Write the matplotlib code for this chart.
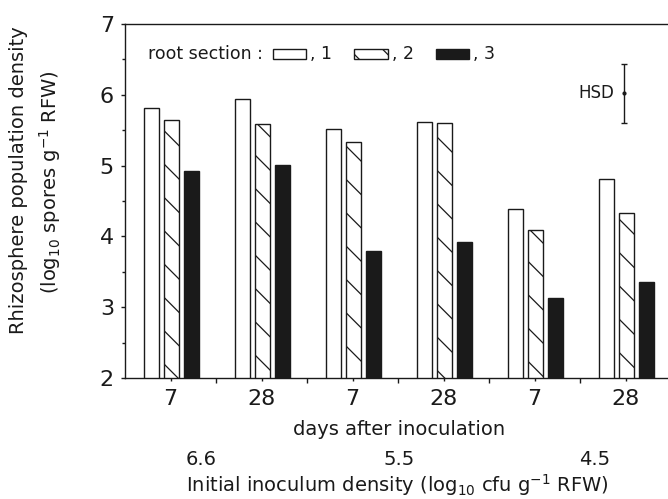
import numpy as np
import matplotlib
matplotlib.use("Agg")
import matplotlib.pyplot as plt  # noqa: E402
from matplotlib.patches import Rectangle  # noqa: E402
from matplotlib.transforms import blended_transform_factory  # noqa: E402
from matplotlib.offsetbox import (AnchoredOffsetbox, HPacker, TextArea,  # noqa: E402
                                  DrawingArea)

plt.rcParams["font.family"] = "DejaVu Sans"
plt.rcParams["mathtext.default"] = "regular"
plt.rcParams["hatch.linewidth"] = 0.9

# --------------------------- data ---------------------------
days = ["7", "28", "7", "28", "7", "28"]
inoculum = ["6.6", "5.5", "4.5"]
section1 = [5.81, 5.94, 5.51, 5.61, 4.39, 4.81]
section2 = [5.65, 5.59, 5.34, 5.60, 4.09, 4.33]
section3 = [4.93, 5.01, 3.80, 3.92, 3.13, 3.35]
hsd_center = 6.02
hsd_half = 0.415

INK = "#1a1a1a"
W, H = 668, 499

fig = plt.figure(figsize=(W / 100, H / 100), dpi=100)
ax = fig.add_axes([125 / W, 1 - 378 / H, 546 / W, 354 / H])

x = np.arange(len(days))
width = 0.16
offsets = [-0.21, 0.01, 0.23]
styles = [dict(facecolor="white"),
          dict(facecolor="white", hatch="\\"),
          dict(facecolor=INK)]
for vals, off, st in zip([section1, section2, section3], offsets, styles):
    ax.bar(x + off, vals, width=width, edgecolor=INK, linewidth=1.0, **st)

# HSD bar
ax.errorbar(4.98, hsd_center, yerr=hsd_half, fmt="o", ms=2, color=INK,
            capsize=2, elinewidth=1, capthick=1)
ax.text(4.88, hsd_center, "HSD", ha="right", va="center", fontsize=12, color=INK)

# axes / ticks
ax.set_xlim(-0.5, 5.5)
ax.set_ylim(2, 7)
ax.set_xticks(x)
ax.set_xticklabels(days, fontsize=16)
ax.set_xticks(x[:-1] + 0.5, minor=True)
ax.tick_params(axis="x", which="major", length=2, width=1, pad=6, colors=INK)
ax.tick_params(axis="x", which="minor", length=3.5, width=1, colors=INK)
ax.set_yticks(range(2, 8))
ax.set_yticks(np.arange(2.5, 7, 1), minor=True)
ax.tick_params(axis="y", which="major", length=3, width=1, labelsize=16, pad=5,
               colors=INK)
ax.tick_params(axis="y", which="minor", length=2, width=1, colors=INK)
for sp in ax.spines.values():
    sp.set_linewidth(1.0)
    sp.set_color(INK)


# legend "root section : [] , 1 ..."
def box(**kw):
    da = DrawingArea(24, 7.6, 0, 0)
    da.add_artist(Rectangle((0, 0), 24, 7.6, edgecolor=INK, linewidth=1.0, **kw))
    return da


def gap(w):
    return DrawingArea(w, 1, 0, 0)


tp = dict(fontsize=12.5, color=INK)
items = [TextArea("root section :", textprops=tp), gap(7), box(facecolor="white"),
         gap(3), TextArea(", 1", textprops=tp), gap(16),
         box(facecolor="white", hatch="\\"), gap(3), TextArea(", 2", textprops=tp),
         gap(16), box(facecolor=INK), gap(3), TextArea(", 3", textprops=tp)]
pack = HPacker(children=items, align="center", pad=0, sep=0)
anch = AnchoredOffsetbox(loc="center left", child=pack, pad=0, borderpad=0,
                         frameon=False, bbox_to_anchor=(0.042, 0.915),
                         bbox_transform=ax.transAxes)
ax.add_artist(anch)

# secondary x labels
fig.text(399 / W, 1 - 435 / H, "days after inoculation", ha="center",
         va="baseline", fontsize=14, color=INK)
tr = blended_transform_factory(ax.transData, fig.transFigure)
for xp, lab in zip([0.34, 2.51, 4.66], inoculum):
    fig.text(xp, 1 - 465 / H, lab, transform=tr, ha="center", va="baseline",
             fontsize=14, color=INK)
fig.text(397 / W, 1 - 492 / H,
         r"Initial inoculum density (log$_{10}$ cfu g$^{-1}$ RFW)",
         ha="center", va="baseline", fontsize=14, color=INK)

# y labels
fig.text(19 / W, 1 - 180 / H, "Rhizosphere population density", rotation=90,
         ha="center", va="center", fontsize=14, color=INK)
fig.text(50 / W, 1 - 182 / H, r"(log$_{10}$ spores g$^{-1}$ RFW)", rotation=90,
         ha="center", va="center", fontsize=14, color=INK)

fig.savefig("out.png", dpi=100)
